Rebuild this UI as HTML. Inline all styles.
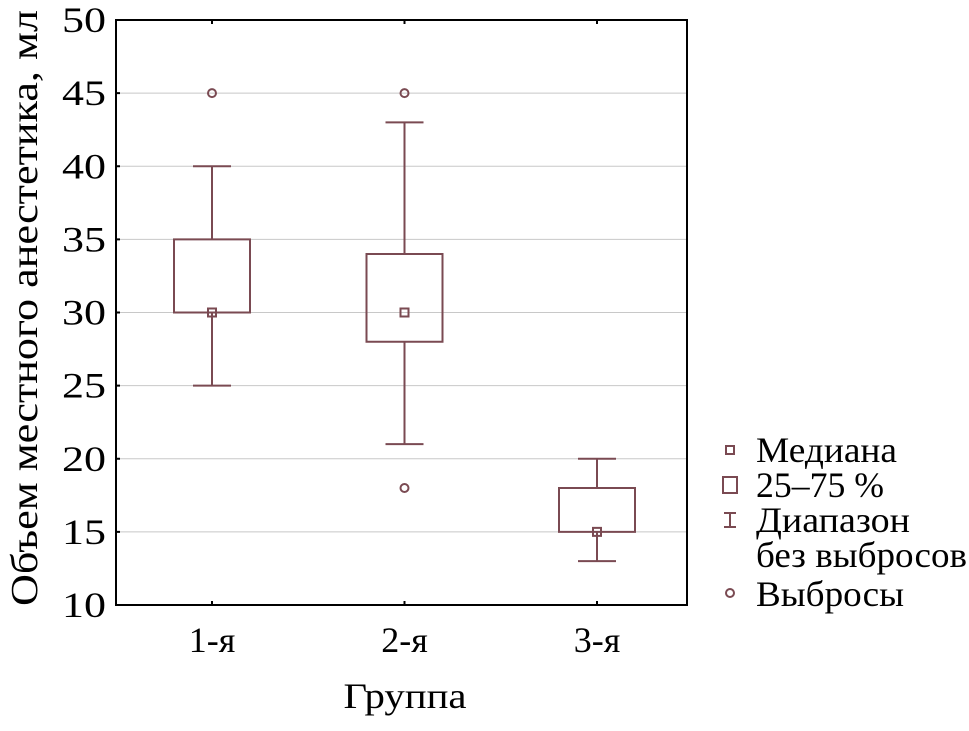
<!DOCTYPE html>
<html><head><meta charset="utf-8"><style>
body{margin:0;background:#fff}
svg text{font-family:"Liberation Serif",serif;fill:#000}
</style></head><body>
<svg id="chart" width="969" height="726"></svg>
<script>
const groups=["1-я","2-я","3-я"];
const whiskLo=[25,21,13];
const whiskHi=[40,43,20];
const q1=[30,28,15];
const q3=[35,34,18];
const medians=[30,30,15];
const outliers=[[45],[45,18],[]];
const yTicks=[10,15,20,25,30,35,40,45,50];

const NS="http://www.w3.org/2000/svg";
const svg=document.getElementById('chart');
const L=116,R=687,T=20,B=605,C="#7a4a52";
const y=v=>B-(v-10)/40*(B-T);
const x=i=>L+96+i*192.5;
function mk(t,a,txt){const e=document.createElementNS(NS,t);for(const k in a)e.setAttribute(k,a[k]);if(txt!==undefined)e.textContent=txt;svg.appendChild(e);return e;}

yTicks.forEach(v=>{
 const g=mk('line',{x1:L,x2:R,y1:y(v),y2:y(v),stroke:"#c8c8c8","stroke-width":1});
 
 
 const t=mk('line',{x1:L,x2:L+4,y1:y(v),y2:y(v),stroke:"#000","stroke-width":2});
 
 
 const lb=mk('text',{x:L-10,y:y(v)+12,"text-anchor":"end","font-size":36,textLength:44,lengthAdjust:"spacingAndGlyphs"},v);
 
 
});
groups.forEach((g,i)=>{
 const cx=x(i),w=38;
 const tk=mk('line',{x1:cx,x2:cx,y1:B,y2:B-4,stroke:"#000","stroke-width":2});
 
 
 const tk2=mk('line',{x1:cx,x2:cx,y1:T,y2:T+4,stroke:"#000","stroke-width":2});
 
 
 const lb=mk('text',{x:cx,y:652,"text-anchor":"middle","font-size":36},g);
 
 
 const s={stroke:C,"stroke-width":2,fill:"none"};
 const w1=mk('line',Object.assign({x1:cx,x2:cx,y1:y(whiskHi[i]),y2:y(q3[i])},s));
 
 
 const w2=mk('line',Object.assign({x1:cx,x2:cx,y1:y(q1[i]),y2:y(whiskLo[i])},s));
 
 
 const c1=mk('line',Object.assign({x1:cx-19,x2:cx+19,y1:y(whiskHi[i]),y2:y(whiskHi[i])},s));
 
 
 const c2=mk('line',Object.assign({x1:cx-19,x2:cx+19,y1:y(whiskLo[i]),y2:y(whiskLo[i])},s));
 
 
 const bx=mk('rect',Object.assign({x:cx-w,y:y(q3[i]),width:2*w,height:y(q1[i])-y(q3[i])},s));
 
 
 const md=mk('rect',Object.assign({x:cx-4,y:y(medians[i])-4,width:8,height:8},s));
 
 
 outliers[i].forEach(o=>{
  const oc=mk('circle',Object.assign({cx:cx,cy:y(o),r:4},s));
  
  
 });
});
const fr=mk('rect',{x:L,y:T,width:R-L,height:B-T,fill:"none",stroke:"#000","stroke-width":2});


const xt=mk('text',{x:405,y:708,"text-anchor":"middle","font-size":36,textLength:123,lengthAdjust:"spacingAndGlyphs"},"Группа");


const yt=mk('text',{x:0,y:0,"text-anchor":"middle","font-size":38,textLength:596,lengthAdjust:"spacingAndGlyphs",transform:"translate(37,308) rotate(-90)"},"Объем местного анестетика, мл");


const s={stroke:C,"stroke-width":2,fill:"none"};
const lm=mk('rect',Object.assign({x:726,y:446,width:8,height:8},s));


const lb2=mk('rect',Object.assign({x:723,y:477,width:14,height:16},s));


const lw=mk('path',Object.assign({d:"M724 513H736M730 513V527M724 527H736"},s));


const lo=mk('circle',Object.assign({cx:730,cy:593,r:4},s));


[["Медиана",462,141],["25–75 %",497,128],["Диапазон",532,154],["без выбросов",567,211],["Выбросы",606,148]].forEach(([t,yy,tl])=>{
 const e=mk('text',{x:756,y:yy,"font-size":36,textLength:tl,lengthAdjust:"spacingAndGlyphs"},t);
 
 
});
</script>
</body></html>
